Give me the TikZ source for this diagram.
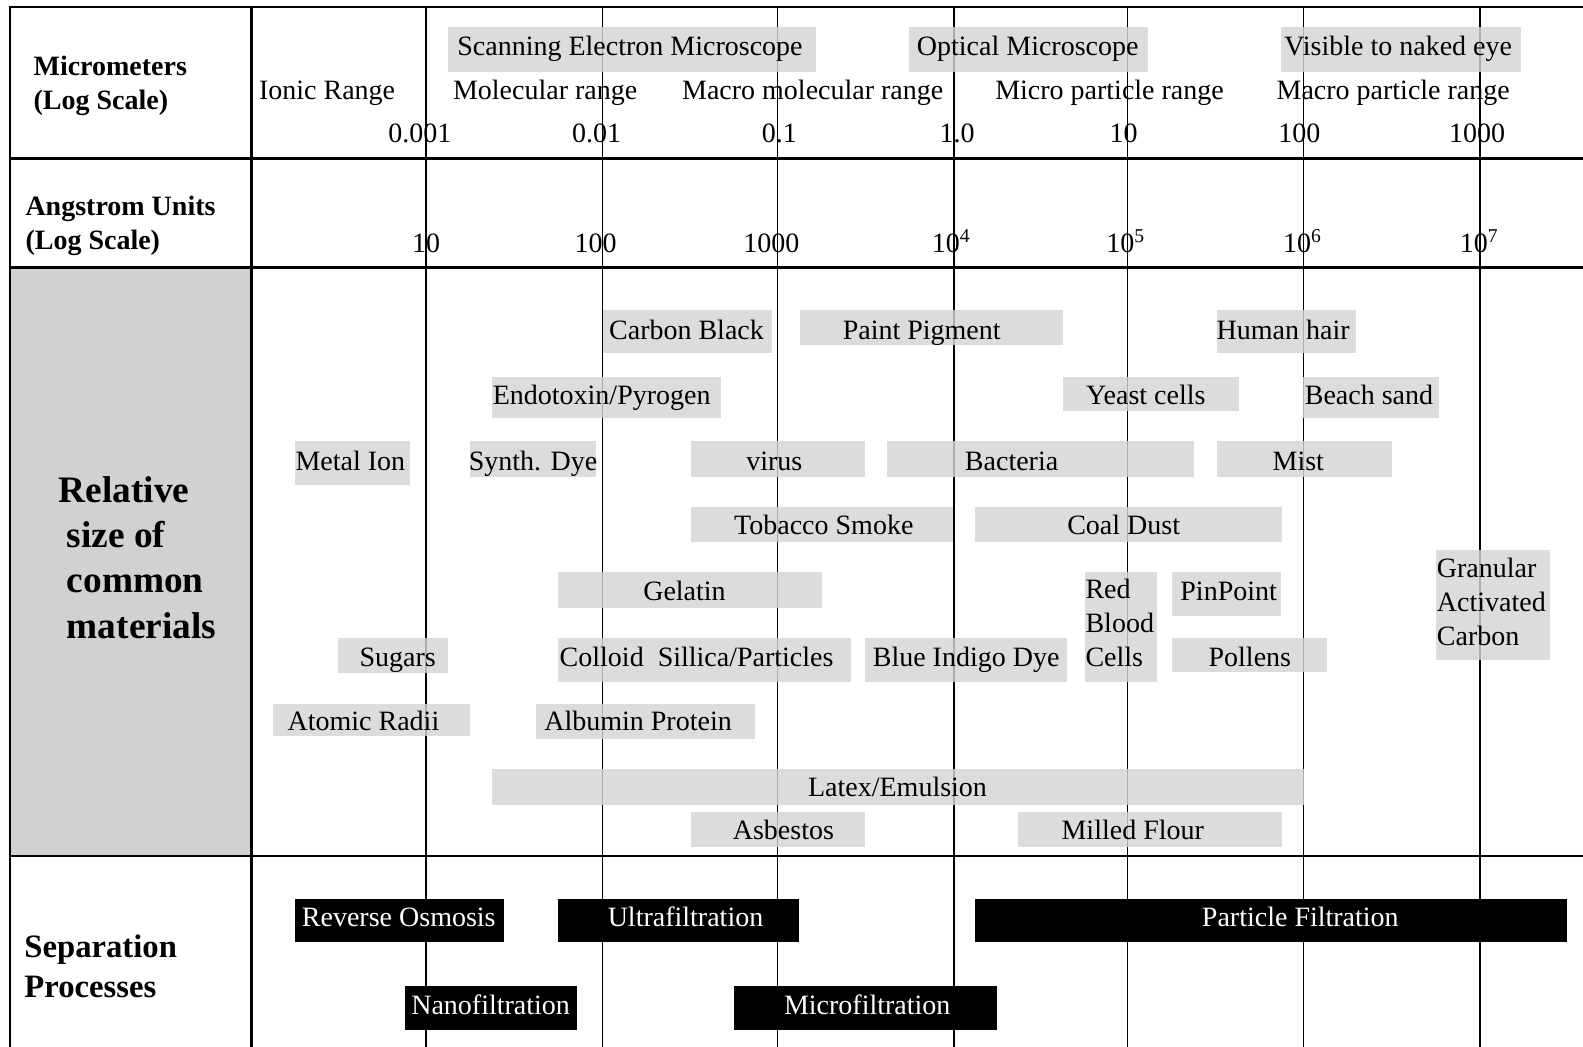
\documentclass[tikz,border=0pt]{standalone}
\usepackage{fontspec}
\setmainfont{Liberation Serif}
\begin{document}
\begin{tikzpicture}[x=0.7572pt,y=-0.7572pt,
  lbl/.style={inner sep=0pt,font=\fontsize{21}{24}\selectfont,text height=0.7em,text depth=0.2em,yshift=-4.2pt},
  hdr/.style={inner sep=0pt,font=\fontsize{21}{25.5}\selectfont\bfseries,align=left,anchor=west},
  big/.style={inner sep=0pt,font=\fontsize{28}{34}\selectfont\bfseries,align=left,anchor=west},
  boxfill/.style={fill=black!17,fill opacity=0.82},
  blk/.style={fill=black},
  wlbl/.style={lbl,text=white},
  grid/.style={line width=1.8pt},
  logline/.style={line width=1.1pt}]
\useasboundingbox (0,0) rectangle (1568,1037);
\newcommand\graybox[8]{\fill[boxfill] (#2,#3) rectangle (#4,#5); \node[lbl] (#1) at (#6,#7) {#8};}
\newcommand\blackbox[8]{\fill[blk] (#2,#3) rectangle (#4,#5); \node[wlbl] (#1) at (#6,#7) {#8};}
% left panel
\fill[black!18] (10,265) rectangle (249,848);
\draw[black!55,densely dotted,line width=0.8pt] (10,265) rectangle (249,848);
% grid
\draw[grid] (10,1037) -- (10,7) -- (1568,7);
\draw[grid] (249,7) -- (249,1037);
\foreach \yy in {157,265,848} \draw[grid] (10,\yy) -- (1568,\yy);
\foreach \xx in {422,597,770,945,1117,1291,1466} \draw[logline] (\xx,7) -- (\xx,1037);
% header row
\node[hdr] (mic) at (33,85) {Micrometers\\(Log Scale)};
\graybox{sem}{444}{27}{808}{71}{624}{46}{Scanning Electron Microscope}
\graybox{opt}{900}{27}{1137}{71}{1018}{46}{Optical Microscope}
\graybox{vis}{1269}{27}{1507}{71}{1385}{46}{Visible to naked eye}
\node[lbl] (ion) at (324,90) {Ionic Range};
\node[lbl] (mol) at (540,90) {Molecular range};
\node[lbl] (mmr) at (805,90) {Macro molecular range};
\node[lbl] (mpr) at (1099,90) {Micro particle range};
\node[lbl] (Mpr) at (1380,90) {Macro particle range};
\node[lbl] (u1) at (416,132) {0.001};
\node[lbl] (u2) at (591,132) {0.01};
\node[lbl] (u3) at (772,132) {0.1};
\node[lbl] (u4) at (948,132) {1.0};
\node[lbl] (u5) at (1113,132) {10};
\node[lbl] (u6) at (1287,132) {100};
\node[lbl] (u7) at (1463,132) {1000};
% angstrom row
\node[hdr] (ang) at (25,224) {Angstrom Units\\(Log Scale)};
\node[lbl] (a1) at (422,241) {10};
\node[lbl] (a2) at (590,241) {100};
\node[lbl] (a3) at (764,241) {1000};
\node[lbl] (a4) at (942,241) {10\textsuperscript{4}};
\node[lbl] (a5) at (1115,241) {10\textsuperscript{5}};
\node[lbl] (a6) at (1290,241) {10\textsuperscript{6}};
\node[lbl] (a7) at (1465,241) {10\textsuperscript{7}};
% relative size
\node[big] (rel) at (58,552) {Relative\\[0pt]\hspace*{6pt}size of\\\hspace*{6pt}common\\\hspace*{6pt}materials};
\graybox{cb}{597}{307}{765}{350}{680}{327}{Carbon Black}
\graybox{pp}{792}{307}{1053}{342}{913}{327}{Paint Pigment}
\graybox{hh}{1205}{307}{1343}{350}{1271}{327}{Human hair}
\graybox{ep}{487}{373}{714}{414}{596}{392}{Endotoxin/Pyrogen}
\graybox{yc}{1053}{373}{1227}{407}{1135}{392}{Yeast cells}
\graybox{bs}{1291}{373}{1425}{414}{1356}{392}{Beach sand}
\graybox{mi}{292}{437}{406}{480}{347}{457}{Metal Ion}
\graybox{sd}{466}{437}{590}{472}{528}{457}{Synth. Dye}
\graybox{vi}{684}{437}{857}{472}{767}{457}{virus}
\graybox{ba}{879}{437}{1183}{472}{1002}{457}{Bacteria}
\graybox{mt}{1205}{437}{1379}{472}{1286}{457}{Mist}
\graybox{ts}{684}{502}{944}{537}{816}{521}{Tobacco Smoke}
\graybox{cd}{966}{502}{1270}{537}{1113}{521}{Coal Dust}
\graybox{ge}{553}{567}{814}{602}{678}{586}{Gelatin}
\fill[boxfill] (1075,567) rectangle (1146,676);
\node[inner sep=0pt,align=left,anchor=north west,font=\fontsize{21}{25.5}\selectfont] (rbc) at (1075,573) {Red\\Blood\\Cells};
\graybox{pin}{1161}{567}{1269}{610}{1217}{586}{PinPoint}
\fill[boxfill] (1422,545) rectangle (1535,654);
\node[inner sep=0pt,align=left,anchor=north west,font=\fontsize{21}{25.5}\selectfont] (gac) at (1423,553) {Granular\\Activated\\Carbon};
\graybox{su}{335}{632}{444}{667}{394}{651}{Sugars}
\graybox{co}{553}{632}{843}{676}{690}{651}{Colloid\ \ Sillica/Particles}
\graybox{bi}{857}{632}{1057}{676}{957}{651}{Blue Indigo Dye}
\graybox{po}{1161}{632}{1314}{666}{1238}{651}{Pollens}
\graybox{ar}{270}{697}{466}{729}{360}{715}{Atomic Radii}
\graybox{ap}{531}{697}{748}{732}{632}{715}{Albumin Protein}
\graybox{le}{487}{762}{1292}{797}{889}{780}{Latex/Emulsion}
\graybox{as}{684}{804}{857}{839}{776}{823}{Asbestos}
\graybox{mf}{1008}{804}{1270}{839}{1122}{823}{Milled Flour}
% separation processes
\node[hdr,font=\fontsize{24.5}{29.5}\selectfont\bfseries] (sep) at (24,957) {Separation\\Processes};
\blackbox{ro}{292}{890}{499}{933}{395}{909}{Reverse Osmosis}
\blackbox{uf}{553}{890}{791}{933}{679}{909}{Ultrafiltration}
\blackbox{pf}{966}{890}{1552}{933}{1288}{909}{Particle Filtration}
\blackbox{nf}{401}{977}{572}{1020}{486}{996}{Nanofiltration}
\blackbox{mf2}{727}{977}{988}{1020}{859}{996}{Microfiltration}
\end{tikzpicture}
\end{document}
